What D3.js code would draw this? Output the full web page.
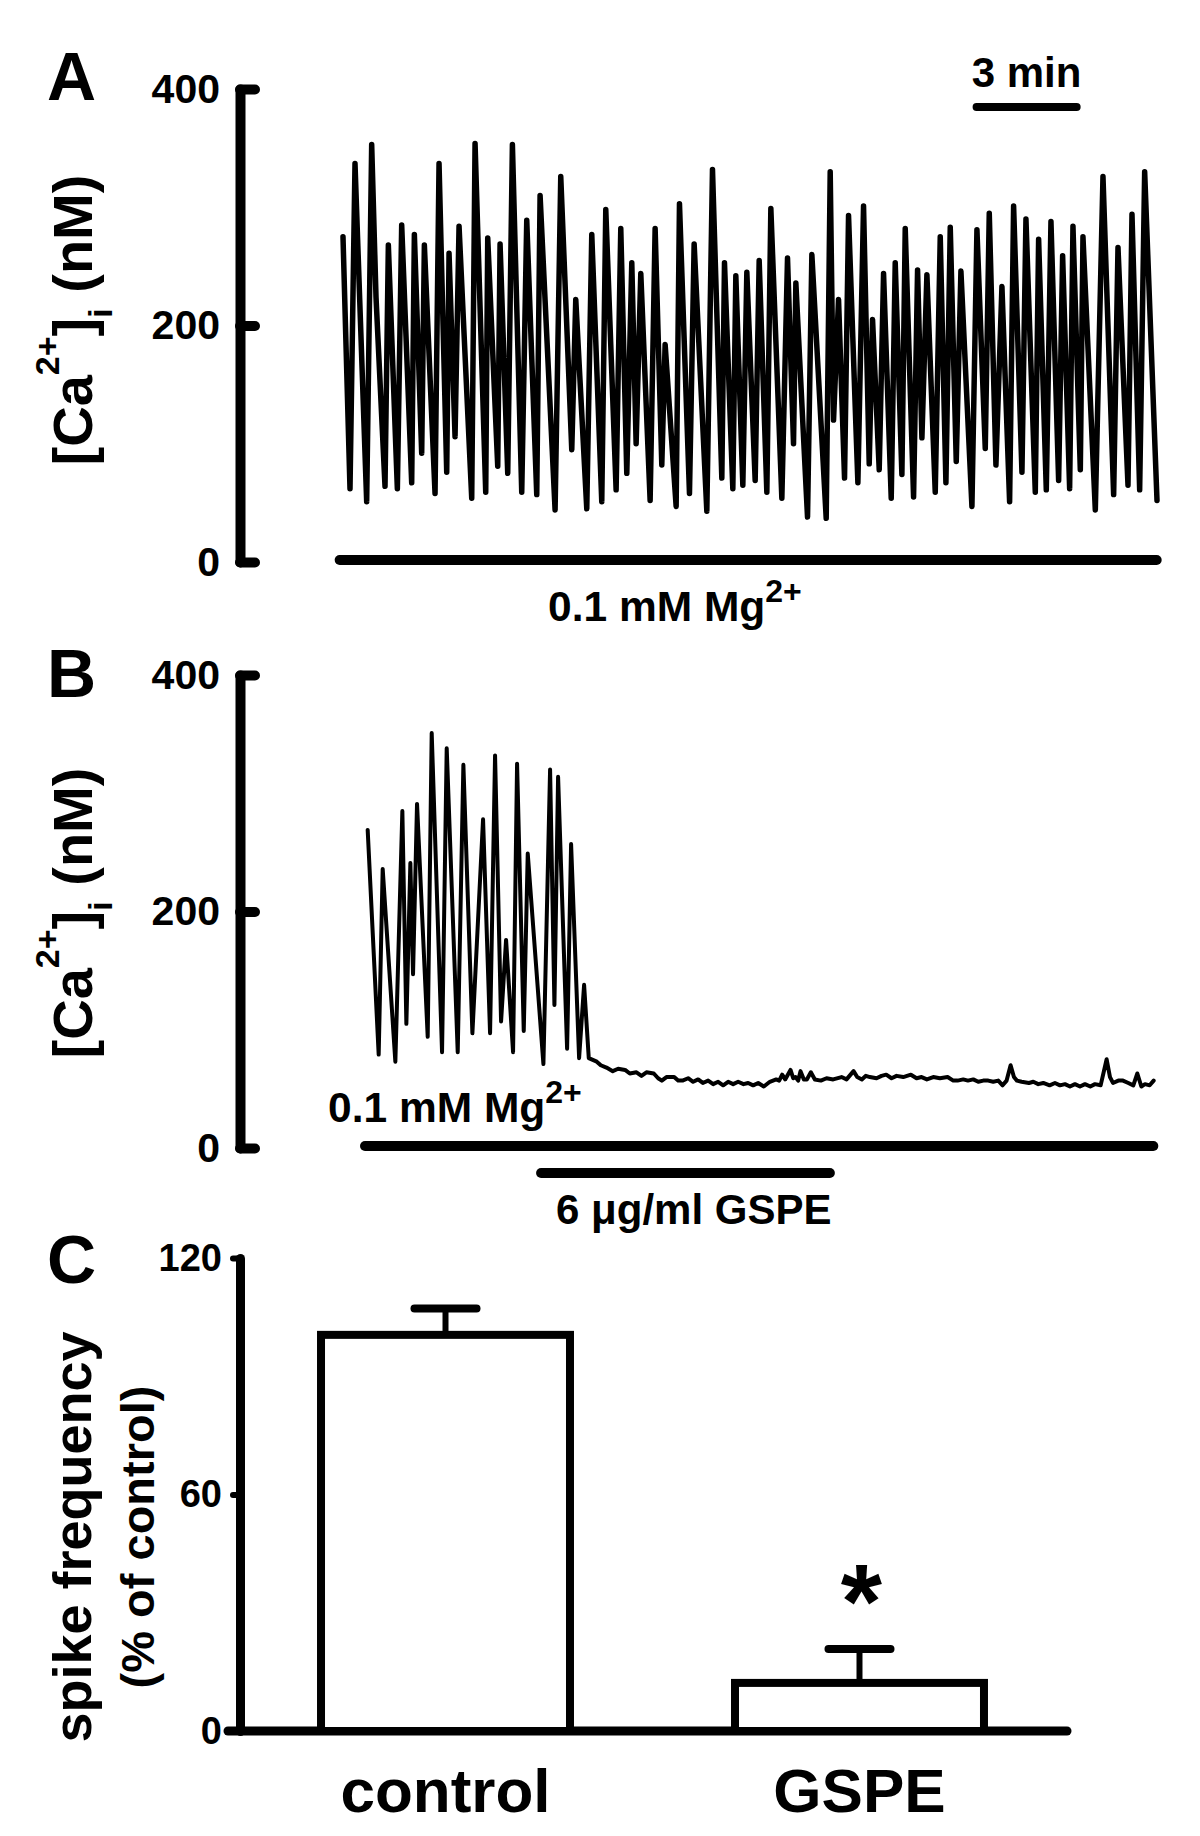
<!DOCTYPE html>
<html><head><meta charset="utf-8">
<script src="https://cdn.jsdelivr.net/npm/d3@7"></script>
<style>
html,body{margin:0;padding:0;background:#fff;}
svg{display:block;}
text{font-family:"Liberation Sans",Arial,Helvetica,sans-serif;font-weight:bold;fill:#000;}
</style></head><body>
<script>
// ---------- DATA ----------
// Panel A: time (min) and [Ca2+]i (nM), 0.1 mM Mg2+
const tA = [0.00,0.21,0.36,0.71,0.86,0.99,1.26,1.36,1.63,1.76,
2.06,2.14,2.36,2.44,2.76,2.88,3.11,3.18,3.36,3.48,
3.86,3.96,4.28,4.34,4.64,4.71,4.94,5.08,5.36,5.51,
5.81,5.91,6.36,6.53,6.86,6.98,7.31,7.46,7.76,7.88,
8.19,8.33,8.51,8.66,8.79,8.93,9.21,9.36,9.56,9.66,
9.99,10.09,10.39,10.53,10.91,11.08,11.36,11.44,11.69,11.78,
11.99,12.11,12.36,12.48,12.71,12.83,13.16,13.33,13.51,13.58,
13.93,14.06,14.49,14.61,14.71,14.86,15.04,15.16,15.44,15.61,
15.78,15.88,16.08,16.21,16.44,16.56,16.76,16.86,17.11,17.23,
17.36,17.51,17.76,17.91,18.08,18.21,18.39,18.53,18.86,19.01,
19.26,19.38,19.58,19.76,19.99,20.11,20.36,20.48,20.76,20.86,
21.09,21.23,21.46,21.58,21.79,21.89,22.11,22.19,22.56,22.79,
23.11,23.24,23.54,23.66,23.89,24.04,24.41];
const caA = [275,62,337,51,353,224,64,268,62,285,
67,277,92,268,58,337,76,261,106,284,
54,354,59,274,81,269,75,353,59,289,
57,310,44,326,95,222,45,277,51,298,
61,282,75,253,100,244,52,282,82,184,
47,303,58,269,43,332,71,253,62,242,
65,245,69,255,59,299,54,257,100,236,
38,260,37,330,120,222,71,293,67,301,
83,205,78,244,54,253,74,282,55,247,
105,243,59,275,67,283,85,246,47,281,
96,295,82,233,51,301,76,290,59,273,
61,288,69,259,62,284,78,275,44,326,
57,266,65,294,61,330,52];

// Panel B: time (min) and [Ca2+]i (nM), GSPE applied
const tB = [0.74,1.07,1.19,1.57,1.78,1.90,2.02,2.10,2.22,2.54,
2.66,2.97,3.11,3.44,3.61,3.88,4.20,4.41,4.56,4.74,
4.89,5.10,5.22,5.42,5.54,6.01,6.21,6.34,6.45,6.72,
6.84,7.08,7.23,7.37,7.61,7.73,7.90,8.09,8.25,8.46,
8.60,8.80,8.95,9.10,9.32,9.45,9.56,9.70,9.93,10.05,
10.18,10.35,10.50,10.65,10.79,10.95,11.10,11.25,11.40,11.55,
11.70,11.85,12.01,12.15,12.30,12.45,12.62,12.80,12.99,13.08,
13.17,13.26,13.42,13.50,13.57,13.65,13.72,13.82,13.91,14.03,
14.15,14.33,14.50,14.70,14.95,15.10,15.31,15.42,15.56,15.68,
15.80,16.00,16.15,16.29,16.45,16.60,16.80,17.03,17.20,17.35,
17.51,17.70,17.90,18.13,18.30,18.43,18.60,18.74,18.90,19.05,
19.20,19.35,19.50,19.65,19.78,19.90,20.02,20.12,20.21,20.35,
20.57,20.70,20.85,21.00,21.19,21.35,21.50,21.65,21.80,21.95,
22.10,22.25,22.41,22.55,22.72,22.90,23.00,23.09,23.25,23.39,
23.55,23.70,23.82,23.94,24.05,24.19,24.31];
const caB = [269,79,236,73,285,105,241,147,291,94,
351,81,338,81,324,97,278,97,332,107,
176,81,325,99,249,71,320,121,314,84,
257,76,138,76,73,70,68,65,67,66,
63,64,61,64,63,59,57,60,60,57,
57,59,56,58,55,57,54,56,53,56,
54,56,54,55,53,55,52,56,58,57,
62,58,66,59,60,57,65,58,58,64,
58,57,59,58,60,58,65,60,58,61,
60,59,61,62,59,61,60,62,59,60,
58,60,59,60,57,57,58,57,58,56,
57,57,56,57,53,57,70,60,57,56,
55,56,54,55,53,55,53,54,52,54,
52,54,52,54,53,75,60,55,57,57,
55,53,63,52,54,53,57];

// Protocol bars (min)
const mgBarA = [-0.1, 24.4];
const mgBarB = [0.66, 24.3];
const gspeBar = [5.94, 14.6];
const scaleBarMin = [19, 22];
const caTicks = [0, 200, 400];

// Panel C
const groups = ["control", "GSPE"];
const freqMean = [100.5, 12.2];
const freqSem = [6.7, 8.6];
const freqTicks = [0, 60, 120];

// ---------- DRAW ----------
const W = 1200, H = 1836;
const FONT = '"Liberation Sans", Arial, Helvetica, sans-serif';
const svg = d3.select("body").append("svg").attr("width", W).attr("height", H);
svg.append("rect").attr("width", W).attr("height", H).attr("fill", "#fff");

const x = d3.scaleLinear().domain([0, 24.41]).range([343, 1157]);
const yA = d3.scaleLinear().domain([0, 400]).range([562, 89]);
const yB = d3.scaleLinear().domain([0, 400]).range([1148, 675]);
const yC = d3.scaleLinear().domain([0, 120]).range([1731, 1258]);

function styleAxis(g, domW, tickW, fs) {
  g.attr("font-family", FONT).attr("font-size", fs);
  g.select(".domain").attr("stroke", "#000").attr("stroke-width", domW)
    .attr("stroke-linecap", "round").attr("stroke-linejoin", "round");
  g.selectAll(".tick line").attr("stroke", "#000").attr("stroke-width", tickW).attr("stroke-linecap", "round");
  g.selectAll(".tick text").attr("font-size", fs).attr("fill", "#000");
}

function caAxis(y) {
  const g = svg.append("g").attr("transform", "translate(240,0)")
    .call(d3.axisLeft(y).tickValues(caTicks).tickSizeInner(-15).tickSizeOuter(0)
      .tickPadding(20).tickFormat(d3.format("d")));
  styleAxis(g, 10, 10, 41);
}

function caTitle(cx, cy) {
  const t = svg.append("text")
    .attr("transform", `translate(${cx},${cy}) rotate(-90)`)
    .attr("text-anchor", "middle").attr("font-size", 56);
  t.append("tspan").text("[Ca");
  t.append("tspan").attr("font-size", 34).attr("dy", -33).text("2+");
  t.append("tspan").attr("dy", 33).text("]");
  t.append("tspan").attr("font-size", 34).attr("dy", 20).text("i");
  t.append("tspan").attr("dy", -20).text(" (nM)");
}

function mgLabel(x0, yb) {
  const t = svg.append("text").attr("x", x0).attr("y", yb).attr("font-size", 42.5);
  t.append("tspan").text("0.1 mM Mg");
  t.append("tspan").attr("font-size", 32).attr("dy", -19).text("2+");
}

function hbar(range, yy, w) {
  svg.append("line").attr("x1", x(range[0])).attr("x2", x(range[1]))
    .attr("y1", yy).attr("y2", yy).attr("stroke", "#000")
    .attr("stroke-width", w).attr("stroke-linecap", "round");
}

function panelLetter(s, yb) {
  svg.append("text").attr("x", 47).attr("y", yb).attr("font-size", 68).text(s);
}

// ----- Panel A -----
panelLetter("A", 100);
caAxis(yA);
caTitle(92, 320);
svg.append("path")
  .attr("d", d3.line().x(i => x(tA[i])).y(i => yA(caA[i]))(d3.range(tA.length)))
  .attr("fill", "none").attr("stroke", "#000").attr("stroke-width", 5.5)
  .attr("stroke-linejoin", "round").attr("stroke-linecap", "round");
hbar(mgBarA, yA(0) - 2, 10);
mgLabel(548, 621);
// scale bar
hbar(scaleBarMin, 107, 8);
svg.append("text").attr("x", (x(scaleBarMin[0]) + x(scaleBarMin[1])) / 2).attr("y", 87)
  .attr("text-anchor", "middle").attr("font-size", 42).text("3 min");

// ----- Panel B -----
panelLetter("B", 697);
caAxis(yB);
caTitle(92, 913);
svg.append("path")
  .attr("d", d3.line().x(i => x(tB[i])).y(i => yB(caB[i]))(d3.range(tB.length)))
  .attr("fill", "none").attr("stroke", "#000").attr("stroke-width", 4)
  .attr("stroke-linejoin", "round").attr("stroke-linecap", "round");
hbar(mgBarB, yB(0) - 2, 10);
hbar(gspeBar, yB(0) + 25, 10);
mgLabel(328, 1122);
svg.append("text").attr("x", 556).attr("y", 1224).attr("font-size", 42).text("6 \u03BCg/ml GSPE");

// ----- Panel C -----
panelLetter("C", 1283);
const xC = d3.scaleBand().domain(groups).range([240, 1065]).paddingInner(0.3986).paddingOuter(0.1957);

// baseline
svg.append("line").attr("x1", 228).attr("x2", xC.range()[1] + 2)
  .attr("y1", yC(0)).attr("y2", yC(0)).attr("stroke", "#000").attr("stroke-width", 9).attr("stroke-linecap", "round");

// bars
groups.forEach((g, i) => {
  const bx = xC(g), bw = xC.bandwidth(), cx = bx + bw / 2;
  svg.append("rect").attr("x", bx).attr("y", yC(freqMean[i]))
    .attr("width", bw).attr("height", yC(0) - yC(freqMean[i]))
    .attr("fill", "#fff").attr("stroke", "#000").attr("stroke-width", 8);
  svg.append("line").attr("x1", cx).attr("x2", cx)
    .attr("y1", yC(freqMean[i])).attr("y2", yC(freqMean[i] + freqSem[i]))
    .attr("stroke", "#000").attr("stroke-width", 6);
  svg.append("line").attr("x1", cx - 31).attr("x2", cx + 31)
    .attr("y1", yC(freqMean[i] + freqSem[i])).attr("y2", yC(freqMean[i] + freqSem[i]))
    .attr("stroke", "#000").attr("stroke-width", 8).attr("stroke-linecap", "round");
});
// asterisk
svg.append("text").attr("x", xC("GSPE") + xC.bandwidth() / 2 + 2).attr("y", 1638)
  .attr("text-anchor", "middle").attr("font-size", 106).text("*");

// y axis C
const gC = svg.append("g").attr("transform", "translate(240,0)")
  .call(d3.axisLeft(yC).tickValues(freqTicks).tickSizeInner(7).tickSizeOuter(0).tickPadding(11));
styleAxis(gC, 9, 6, 38);

// x labels
const gX = svg.append("g").attr("transform", `translate(0,${yC(0)})`)
  .call(d3.axisBottom(xC).tickSize(0).tickPadding(37));
gX.select(".domain").remove();
gX.selectAll(".tick text").attr("font-size", 62).attr("fill", "#000");

// y title C
svg.append("text").attr("transform", "translate(91,1537) rotate(-90)")
  .attr("text-anchor", "middle").attr("font-size", 54).text("spike frequency");
svg.append("text").attr("transform", "translate(154,1537) rotate(-90)")
  .attr("text-anchor", "middle").attr("font-size", 47).text("(% of control)");
</script>
</body></html>
